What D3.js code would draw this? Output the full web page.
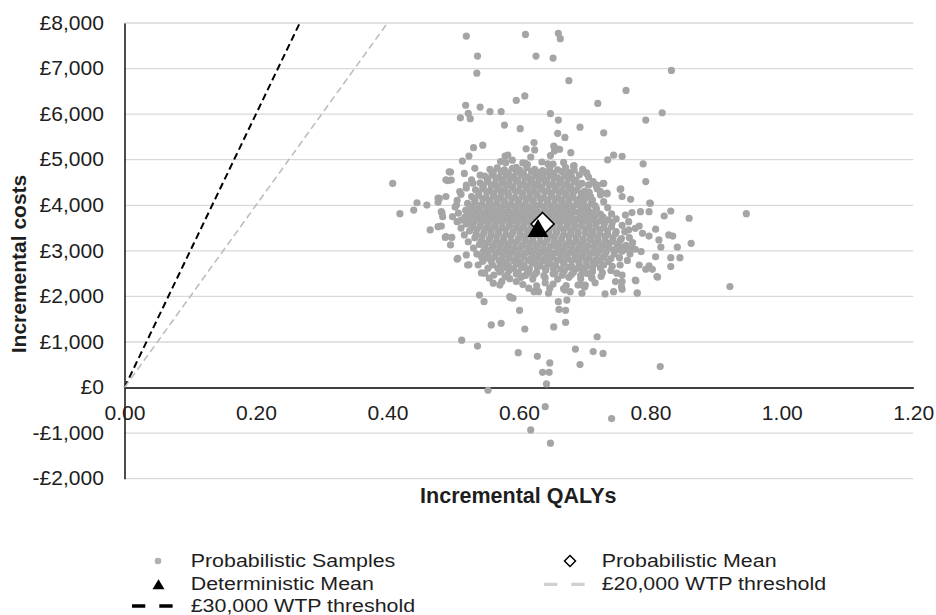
<!DOCTYPE html>
<html>
<head>
<meta charset="utf-8">
<script src="https://cdn.jsdelivr.net/npm/d3@7"></script>
<style>
  body { margin: 0; background: #fff; }
  svg { display: block; font-family: 'Liberation Sans', Arial, sans-serif; }
</style>
</head>
<body>
<div id="chart"></div>
<script>
// axis ticks
const xTicks = [0, 0.2, 0.4, 0.6, 0.8, 1.0, 1.2]
const yTicks = [-2000, -1000, 0, 1000, 2000, 3000, 4000, 5000, 6000, 7000, 8000]

// [incremental QALYs, incremental cost]
// dense middle of the cloud
const samplesCore = [
  [0.572,4960],[0.590,4990],[0.606,4930],[0.635,4950],[0.668,4940],
  [0.556,4790],[0.567,4820],[0.578,4780],[0.590,4810],[0.601,4770],[0.612,4830],[0.624,4790],[0.636,4760],[0.647,4820],[0.659,4780],[0.671,4810],[0.684,4770],
  [0.548,4640],[0.559,4670],[0.570,4620],[0.581,4660],[0.592,4630],[0.603,4680],[0.614,4620],[0.625,4660],[0.636,4630],[0.647,4670],[0.658,4610],[0.669,4650],[0.680,4630],[0.692,4670],
  [0.541,4490],[0.552,4520],[0.563,4470],[0.574,4510],[0.585,4480],[0.596,4530],[0.607,4470],[0.618,4510],[0.629,4480],[0.640,4520],[0.651,4460],[0.662,4500],[0.673,4470],[0.684,4520],[0.696,4480],
  [0.534,4340],[0.545,4370],[0.556,4320],[0.567,4360],[0.578,4330],[0.589,4380],[0.600,4320],[0.611,4360],[0.622,4330],[0.633,4370],[0.644,4310],[0.655,4350],[0.666,4320],[0.677,4370],[0.688,4340],[0.700,4310],
  [0.528,4190],[0.539,4220],[0.550,4170],[0.561,4210],[0.572,4180],[0.583,4230],[0.594,4170],[0.605,4210],[0.616,4180],[0.627,4220],[0.638,4160],[0.649,4200],[0.660,4170],[0.671,4220],[0.682,4190],[0.693,4160],[0.705,4210],
  [0.522,4040],[0.533,4070],[0.544,4020],[0.555,4060],[0.566,4030],[0.577,4080],[0.588,4020],[0.599,4060],[0.610,4030],[0.621,4070],[0.632,4010],[0.643,4050],[0.654,4020],[0.665,4070],[0.676,4040],[0.687,4010],[0.698,4060],[0.710,4030],
  [0.519,3890],[0.530,3920],[0.541,3870],[0.552,3910],[0.563,3880],[0.574,3930],[0.585,3870],[0.596,3910],[0.607,3880],[0.618,3920],[0.629,3860],[0.640,3900],[0.651,3870],[0.662,3920],[0.673,3890],[0.684,3860],[0.695,3910],[0.706,3880],[0.718,3920],
  [0.518,3740],[0.529,3770],[0.540,3720],[0.551,3760],[0.562,3730],[0.573,3780],[0.584,3720],[0.595,3760],[0.606,3730],[0.617,3770],[0.628,3710],[0.639,3750],[0.650,3720],[0.661,3770],[0.672,3740],[0.683,3710],[0.694,3760],[0.705,3730],[0.716,3770],[0.728,3740],
  [0.520,3590],[0.531,3620],[0.542,3570],[0.553,3610],[0.564,3580],[0.575,3630],[0.586,3570],[0.597,3610],[0.608,3580],[0.619,3620],[0.630,3560],[0.641,3600],[0.652,3570],[0.663,3620],[0.674,3590],[0.685,3560],[0.696,3610],[0.707,3580],[0.718,3620],[0.730,3590],[0.742,3620],
  [0.525,3440],[0.536,3470],[0.547,3420],[0.558,3460],[0.569,3430],[0.580,3480],[0.591,3420],[0.602,3460],[0.613,3430],[0.624,3470],[0.635,3410],[0.646,3450],[0.657,3420],[0.668,3470],[0.679,3440],[0.690,3410],[0.701,3460],[0.712,3430],[0.723,3470],[0.735,3440],[0.748,3420],
  [0.533,3290],[0.544,3320],[0.555,3270],[0.566,3310],[0.577,3280],[0.588,3330],[0.599,3270],[0.610,3310],[0.621,3280],[0.632,3320],[0.643,3260],[0.654,3300],[0.665,3270],[0.676,3320],[0.687,3290],[0.698,3260],[0.709,3310],[0.720,3280],[0.731,3320],[0.743,3290],[0.756,3270],
  [0.540,3140],[0.551,3170],[0.562,3120],[0.573,3160],[0.584,3130],[0.595,3180],[0.606,3120],[0.617,3160],[0.628,3130],[0.639,3170],[0.650,3110],[0.661,3150],[0.672,3120],[0.683,3170],[0.694,3140],[0.705,3110],[0.716,3160],[0.727,3130],[0.738,3170],[0.750,3140],[0.763,3120],
  [0.546,2990],[0.557,3020],[0.568,2970],[0.579,3010],[0.590,2980],[0.601,3030],[0.612,2970],[0.623,3010],[0.634,2980],[0.645,3020],[0.656,2960],[0.667,3000],[0.678,2970],[0.689,3020],[0.700,2990],[0.711,2960],[0.722,3010],[0.733,2980],[0.744,3020],[0.757,2990],
  [0.552,2840],[0.563,2870],[0.574,2820],[0.585,2860],[0.596,2830],[0.607,2880],[0.618,2820],[0.629,2860],[0.640,2830],[0.651,2870],[0.662,2810],[0.673,2850],[0.684,2820],[0.695,2870],[0.706,2840],[0.717,2810],[0.728,2860],[0.740,2830],[0.753,2850],
  [0.560,2690],[0.572,2720],[0.584,2670],[0.596,2710],[0.608,2680],[0.620,2730],[0.632,2670],[0.644,2710],[0.656,2680],[0.668,2720],[0.680,2660],[0.692,2700],[0.704,2670],[0.716,2720],[0.729,2690],[0.742,2660],
  [0.571,2540],[0.585,2570],[0.599,2520],[0.613,2560],[0.627,2530],[0.641,2580],[0.655,2520],[0.669,2560],[0.683,2530],[0.697,2570],[0.712,2540],[0.727,2520],
  [0.586,2390],[0.603,2420],[0.621,2380],[0.640,2410],[0.659,2380],[0.676,2420],[0.694,2390],[0.711,2410],
  [0.606,2260],[0.627,2230],[0.652,2270],[0.672,2240],[0.690,2250]
]

// more samples packed between the ones above
const samplesCoreFill = [
  [0.561,4720],[0.573,4740],[0.584,4710],[0.596,4735],[0.607,4705],[0.619,4745],[0.630,4715],[0.642,4730],[0.653,4700],[0.665,4740],[0.677,4715],
  [0.553,4570],[0.565,4590],[0.576,4560],[0.587,4585],[0.598,4555],[0.609,4595],[0.620,4565],[0.631,4580],[0.642,4550],[0.653,4590],[0.664,4560],[0.675,4585],[0.687,4555],
  [0.546,4420],[0.558,4440],[0.569,4410],[0.580,4435],[0.591,4405],[0.602,4445],[0.613,4415],[0.624,4430],[0.635,4400],[0.646,4440],[0.657,4410],[0.668,4435],[0.679,4405],[0.691,4430],
  [0.539,4270],[0.551,4290],[0.562,4260],[0.573,4285],[0.584,4255],[0.595,4295],[0.606,4265],[0.617,4280],[0.628,4250],[0.639,4290],[0.650,4260],[0.661,4285],[0.672,4255],[0.683,4280],[0.695,4260],[0.707,4285],
  [0.533,4120],[0.545,4140],[0.556,4110],[0.567,4135],[0.578,4105],[0.589,4145],[0.600,4115],[0.611,4130],[0.622,4100],[0.633,4140],[0.644,4110],[0.655,4135],[0.666,4105],[0.677,4130],[0.688,4110],[0.700,4135],[0.712,4115],
  [0.527,3970],[0.539,3990],[0.550,3960],[0.561,3985],[0.572,3955],[0.583,3995],[0.594,3965],[0.605,3980],[0.616,3950],[0.627,3990],[0.638,3960],[0.649,3985],[0.660,3955],[0.671,3980],[0.682,3960],[0.693,3990],[0.704,3965],[0.716,3985],
  [0.524,3820],[0.536,3840],[0.547,3810],[0.558,3835],[0.569,3805],[0.580,3845],[0.591,3815],[0.602,3830],[0.613,3800],[0.624,3840],[0.635,3810],[0.646,3835],[0.657,3805],[0.668,3830],[0.679,3810],[0.690,3840],[0.701,3815],[0.712,3835],[0.724,3805],
  [0.524,3670],[0.536,3690],[0.547,3660],[0.558,3685],[0.569,3655],[0.580,3695],[0.591,3665],[0.602,3680],[0.613,3650],[0.624,3690],[0.635,3660],[0.646,3685],[0.657,3655],[0.668,3680],[0.679,3660],[0.690,3690],[0.701,3665],[0.712,3685],[0.724,3655],[0.736,3680],
  [0.529,3520],[0.541,3540],[0.552,3510],[0.563,3535],[0.574,3505],[0.585,3545],[0.596,3515],[0.607,3530],[0.618,3500],[0.629,3540],[0.640,3510],[0.651,3535],[0.662,3505],[0.673,3530],[0.684,3510],[0.695,3540],[0.706,3515],[0.717,3535],[0.729,3505],[0.741,3530],
  [0.535,3370],[0.547,3390],[0.558,3360],[0.569,3385],[0.580,3355],[0.591,3395],[0.602,3365],[0.613,3380],[0.624,3350],[0.635,3390],[0.646,3360],[0.657,3385],[0.668,3355],[0.679,3380],[0.690,3360],[0.701,3390],[0.712,3365],[0.723,3385],[0.735,3355],[0.747,3380],
  [0.543,3220],[0.555,3240],[0.566,3210],[0.577,3235],[0.588,3205],[0.599,3245],[0.610,3215],[0.621,3230],[0.632,3200],[0.643,3240],[0.654,3210],[0.665,3235],[0.676,3205],[0.687,3230],[0.698,3210],[0.709,3240],[0.720,3215],[0.731,3235],[0.743,3205],[0.754,3230],
  [0.548,3070],[0.560,3090],[0.571,3060],[0.582,3085],[0.593,3055],[0.604,3095],[0.615,3065],[0.626,3080],[0.637,3050],[0.648,3090],[0.659,3060],[0.670,3085],[0.681,3055],[0.692,3080],[0.703,3060],[0.714,3090],[0.725,3065],[0.736,3085],[0.748,3055],[0.759,3080],
  [0.553,2920],[0.565,2940],[0.576,2910],[0.587,2935],[0.598,2905],[0.609,2945],[0.620,2915],[0.631,2930],[0.642,2900],[0.653,2940],[0.664,2910],[0.675,2935],[0.686,2905],[0.697,2930],[0.708,2910],[0.719,2940],[0.731,2915],[0.745,2930],
  [0.558,2770],[0.570,2790],[0.581,2760],[0.592,2785],[0.603,2755],[0.614,2795],[0.625,2765],[0.636,2780],[0.647,2750],[0.658,2790],[0.669,2760],[0.680,2785],[0.691,2755],[0.702,2780],[0.713,2760],[0.724,2790],[0.736,2765],
  [0.568,2620],[0.580,2640],[0.592,2610],[0.604,2635],[0.616,2605],[0.628,2645],[0.640,2615],[0.652,2630],[0.664,2600],[0.676,2640],[0.688,2610],[0.700,2635],[0.712,2615],[0.724,2630],
  [0.582,2470],[0.596,2490],[0.610,2460],[0.624,2485],[0.638,2455],[0.652,2495],[0.666,2465],[0.680,2480],[0.694,2460],[0.708,2485]
]

// ragged rim of the cloud
const samplesRim = [
  [0.533,4810],[0.541,4660],[0.528,4560],[0.520,4380],[0.512,4240],[0.506,4110],[0.503,3960],[0.508,3830],[0.506,3640],[0.512,3500],
  [0.517,3350],[0.523,3200],[0.531,3060],[0.536,2930],[0.545,2770],[0.553,2620],[0.562,2470],[0.574,2330],
  [0.697,4790],[0.706,4620],[0.713,4520],[0.719,4360],[0.724,4230],[0.729,4080],[0.735,3950],[0.741,3810],[0.748,3700],[0.757,3560],
  [0.761,3420],[0.768,3290],[0.773,3180],[0.772,3060],[0.769,2930],[0.765,2790],[0.754,2690],[0.740,2570],[0.725,2440],[0.716,2300],
  [0.618,5060],[0.648,5090],[0.583,5100],[0.640,2300],[0.615,2180],[0.668,2170]
]

const samplesOuter = [
  // upper tail
  [0.520,7710],[0.610,7750],[0.660,7775],[0.663,7655],[0.537,7275],[0.626,7275],[0.652,7230],[0.536,6900],[0.832,6960],[0.676,6735],
  [0.763,6520],[0.609,6400],[0.596,6300],[0.519,6195],[0.541,6155],[0.720,6235],[0.556,6055],[0.573,6055],[0.523,6020],[0.511,5920],
  [0.526,5900],[0.648,6010],[0.818,6030],[0.793,5870],[0.660,5870],[0.578,5760],[0.602,5680],[0.693,5715],[0.729,5590],[0.659,5580],
  [0.670,5490],[0.545,5320],[0.531,5265],[0.611,5240],[0.623,5375],[0.624,5215],[0.653,5300],[0.656,5250],[0.654,5190],[0.662,5230],
  [0.679,5155],[0.524,5080],[0.514,4970],[0.579,5080],[0.580,4935],[0.744,5100],[0.757,5075],[0.735,4995],[0.789,4910],[0.793,4520],
  [0.408,4480],[0.610,4920],[0.613,4895],[0.596,4830],[0.644,4910],[0.652,4905],[0.671,4830],[0.684,4870],[0.703,4710],[0.496,4730],
  [0.492,4540],[0.728,4475],[0.717,4440],[0.706,4445],[0.755,4360],[0.734,4265],
  // left side
  [0.419,3815],[0.440,3895],[0.445,4055],[0.460,4005],[0.465,3460],[0.477,4065],[0.479,4150],[0.483,3835],[0.484,3750],[0.482,3545],
  [0.488,3295],[0.498,3295],[0.496,3130],[0.506,2820],[0.520,2910],[0.524,2695],[0.543,2515],[0.540,2030],[0.547,1885],[0.558,1375],
  [0.573,1410],[0.513,1040],[0.537,910],[0.494,4735],[0.497,4555],[0.489,4560],[0.517,4700],[0.520,4445],[0.510,4300],[0.530,4485],
  [0.477,4155],[0.489,4190],[0.482,3860],[0.477,3530],[0.505,4005],[0.499,3750],[0.512,3675],[0.489,3310],[0.507,2835],[0.522,2690],
  [0.543,2870],[0.538,2690],[0.548,2510],[0.555,2400],[0.561,2290],[0.571,2250],[0.586,1995],[0.591,1960],[0.630,2105],[0.645,2070],
  [0.647,2180],[0.660,1885],[0.673,1920],[0.573,2580],[0.579,2435],[0.604,2435],[0.614,2510],[0.596,2325],
  // right side
  [0.703,4700],[0.683,4860],[0.706,4445],[0.719,4445],[0.729,4480],[0.724,4300],[0.734,4250],[0.754,4350],[0.757,4190],[0.770,4130],
  [0.709,4190],[0.711,4115],[0.800,4045],[0.798,3860],[0.785,3860],[0.772,3840],[0.762,3785],[0.821,3765],[0.831,3875],[0.859,3715],
  [0.862,3165],[0.767,3640],[0.767,3460],[0.777,3495],[0.783,3545],[0.808,3475],[0.788,3385],[0.798,3325],[0.828,3350],[0.834,3325],
  [0.813,3240],[0.816,3080],[0.841,3080],[0.749,3020],[0.762,3035],[0.777,3035],[0.786,2985],[0.808,2870],[0.831,2850],[0.845,2850],
  [0.831,2655],[0.783,2690],[0.798,2670],[0.793,2595],[0.810,2435],[0.749,2510],[0.757,2470],[0.777,2360],[0.703,2510],[0.711,2400],
  [0.701,2250],[0.747,2325],[0.757,2325],[0.757,2155],[0.744,2105],[0.731,2055],[0.780,2070],[0.678,2105],[0.696,2070],[0.700,2205],
  [0.696,2250],[0.756,2215],[0.778,2345],[0.780,2080],[0.803,2595],[0.811,2425],[0.946,3815],[0.921,2215],[0.799,4050],
  // lower tail
  [0.601,1695],[0.609,1285],[0.588,1970],[0.653,1330],[0.661,1715],[0.671,1695],[0.671,1430],[0.670,2140],[0.719,1115],[0.686,845],
  [0.713,790],[0.728,750],[0.599,765],[0.628,685],[0.693,505],[0.647,540],[0.636,335],[0.646,335],[0.642,80],[0.815,460],
  [0.553,-60],[0.640,-420],[0.741,-680],[0.618,-930],[0.648,-1220],[0.623,2105]
]

const deterministicMean = [0.629, 3500]
const probabilisticMean = [0.636, 3590]

// willingness-to-pay thresholds (£ per QALY)
const thresholds = [
  {key: 'wtp30', wtp: 30000},
  {key: 'wtp20', wtp: 20000}
]

const legendLabels = [
  {key: 'samples', label: 'Probabilistic Samples'},
  {key: 'probMean', label: 'Probabilistic Mean'},
  {key: 'detMean', label: 'Deterministic Mean'},
  {key: 'wtp20', label: '£20,000 WTP threshold'},
  {key: 'wtp30', label: '£30,000 WTP threshold'}
]

const width = 936
const height = 615
const textColor = '#1e1e1e'
const gridColor = '#d9d9d9'
const sampleColor = '#a5a5a5'
const lineStyle = {
  wtp30: {stroke: '#000', width: 2, dash: '7,4'},
  wtp20: {stroke: '#bdbdbd', width: 1.6, dash: '7,4'}
}

const svg = d3.select('#chart')
  .append('svg')
  .attr('width', width)
  .attr('height', height)

const x = d3.scaleLinear().domain([0, 1.2]).range([124.5, 913.3])
const y = d3.scaleLinear().domain([-2000, 8000]).range([478.7, 23])

const fmtCost = v => (v < 0 ? '-' : '') + '£' + d3.format(',')(Math.abs(v))

// gridlines
svg.append('g')
  .selectAll('line')
  .data(yTicks.filter(d => d !== 0))
  .join('line')
  .attr('x1', x(0))
  .attr('x2', x(1.2))
  .attr('y1', d => y(d))
  .attr('y2', d => y(d))
  .attr('stroke', gridColor)
  .attr('stroke-width', 1.3)

// y axis
const yAxis = svg.append('g')
  .attr('transform', `translate(${x(0)},0)`)
  .call(d3.axisLeft(y).tickValues(yTicks).tickFormat(fmtCost).tickSize(0).tickSizeOuter(0).tickPadding(19))
yAxis.select('.domain').attr('stroke', '#000').attr('stroke-width', 1.4)
yAxis.selectAll('text')
  .attr('font-size', 19.5)
  .attr('fill', textColor)
  .attr('transform', 'scale(1.08,1)')

// x axis sits on cost = 0
const xAxis = svg.append('g')
  .attr('transform', `translate(0,${y(0)})`)
  .call(d3.axisBottom(x).tickValues(xTicks).tickFormat(d3.format('.2f')).tickSize(0).tickSizeOuter(0).tickPadding(18.5))
xAxis.select('.domain').attr('stroke', '#000').attr('stroke-width', 1.4)
xAxis.selectAll('text')
  .attr('font-size', 19.5)
  .attr('fill', textColor)
  .attr('transform', 'scale(1.08,1)')

// axis titles
svg.append('text')
  .attr('x', 518.3)
  .attr('y', 503)
  .attr('text-anchor', 'middle')
  .attr('font-size', 21.5)
  .attr('font-weight', 'bold')
  .attr('fill', textColor)
  .text('Incremental QALYs')

svg.append('text')
  .attr('transform', 'translate(26,264) rotate(-90)')
  .attr('text-anchor', 'middle')
  .attr('font-size', 21)
  .attr('font-weight', 'bold')
  .attr('fill', textColor)
  .text('Incremental costs')

// WTP threshold lines from the origin up to the top of the plot
const yMax = y.domain()[1]
svg.append('g')
  .selectAll('line')
  .data(thresholds)
  .join('line')
  .attr('x1', x(0))
  .attr('y1', y(0))
  .attr('x2', d => x(yMax / d.wtp))
  .attr('y2', y(yMax))
  .attr('stroke', d => lineStyle[d.key].stroke)
  .attr('stroke-width', d => lineStyle[d.key].width)
  .attr('stroke-dasharray', d => lineStyle[d.key].dash)

// probabilistic samples
svg.append('g')
  .selectAll('circle')
  .data(samplesCore.concat(samplesCoreFill, samplesRim, samplesOuter))
  .join('circle')
  .attr('cx', d => x(d[0]))
  .attr('cy', d => y(d[1]))
  .attr('r', 3.6)
  .attr('fill', sampleColor)

const diamond = (cx, cy, h) => `M${cx},${cy - h}L${cx + h},${cy}L${cx},${cy + h}L${cx - h},${cy}Z`
const triangle = (cx, cy, w, h) => `M${cx - w / 2},${cy + h / 2}L${cx},${cy - h / 2}L${cx + w / 2},${cy + h / 2}Z`

// means
svg.append('path')
  .attr('d', diamond(x(probabilisticMean[0]), y(probabilisticMean[1]), 11.5))
  .attr('fill', '#fff')
  .attr('stroke', '#000')
  .attr('stroke-width', 1.6)

svg.append('path')
  .attr('d', triangle(x(deterministicMean[0]), y(deterministicMean[1]), 21, 18))
  .attr('fill', '#000')

// legend, two columns filled row by row
const legendCols = [{marker: 158, text: 190.7}, {marker: 570, text: 601.7}]
const legendRows = [567.3, 590.2, 611.8]

const legend = svg.append('g')
legendLabels.forEach((item, i) => {
  const col = legendCols[i % 2]
  const base = legendRows[Math.floor(i / 2)]
  const my = base - 6.3
  const g = legend.append('g')
  if (item.key === 'samples') {
    g.append('circle').attr('cx', col.marker).attr('cy', my).attr('r', 3.3).attr('fill', '#b0b0b0')
  } else if (item.key === 'probMean') {
    g.append('path').attr('d', diamond(col.marker, my, 5.5))
      .attr('fill', '#fff').attr('stroke', '#000').attr('stroke-width', 1.5)
  } else if (item.key === 'detMean') {
    g.append('path').attr('d', triangle(col.marker + 0.5, my + 0.3, 12, 10)).attr('fill', '#000')
  } else {
    g.append('line')
      .attr('x1', col.marker - 26).attr('x2', col.marker + 15)
      .attr('y1', my + 0.5).attr('y2', my + 0.5)
      .attr('stroke', item.key === 'wtp20' ? '#d0d0d0' : '#000')
      .attr('stroke-width', 3.3)
      .attr('stroke-dasharray', '13.3,14')
  }
  g.append('text')
    .attr('transform', `translate(${col.text},${base}) scale(1.17,1)`)
    .attr('font-size', 18.3)
    .attr('fill', textColor)
    .text(item.label)
})
</script>
</body>
</html>
